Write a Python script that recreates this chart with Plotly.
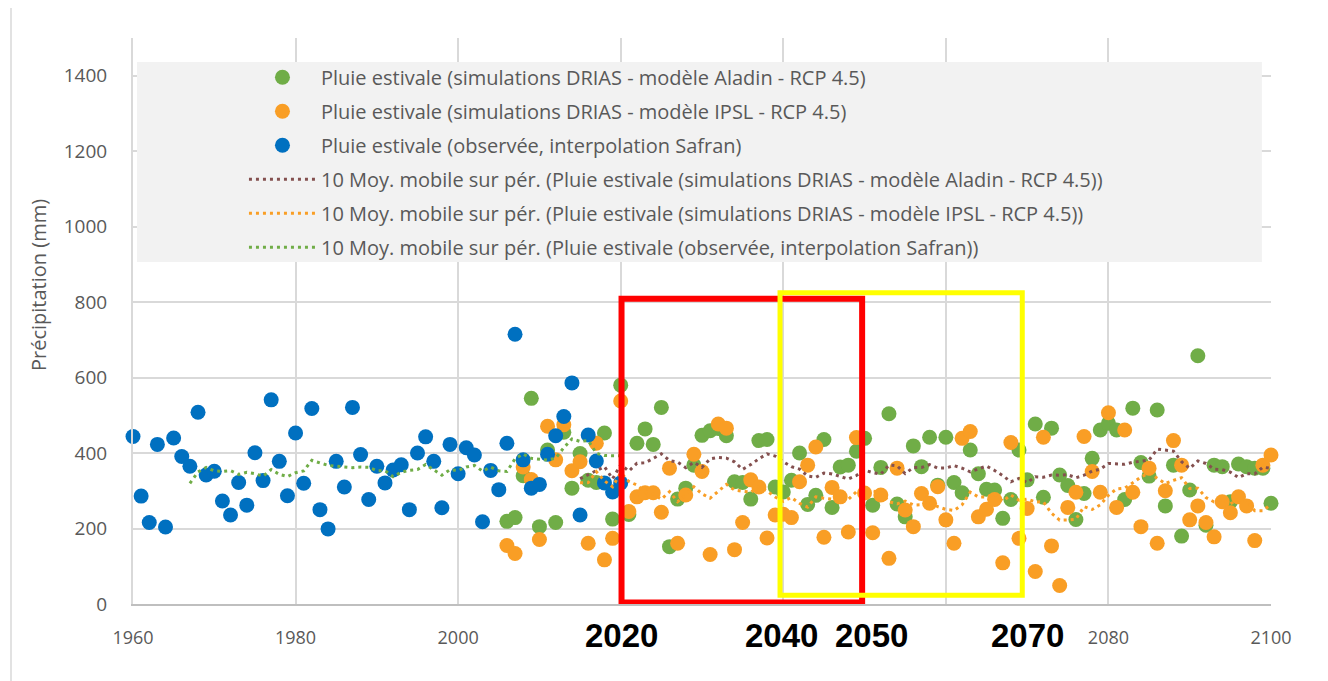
import pandas as pd
import plotly.graph_objects as go

# summer rainfall (mm) -- observed Safran series starts 1958 (first two years fall left of the axis)
obs_years = list(range(1958, 2021))
obs_rain = [
    207, 223,
    444, 286, 216, 423, 204, 440, 391, 365, 508, 342,
    352, 273, 236, 322, 262, 401, 327, 541, 378, 287,
    453, 320, 518, 250, 199, 378, 310, 521, 396, 277,
    365, 321, 355, 369, 250, 400, 443, 378, 255, 423,
    345, 414, 395, 218, 354, 303, 426, 715, 382, 307,
    317, 397, 446, 497, 586, 236, 448, 379, 321, 297,
    321,
]

sim_years = list(range(2006, 2101))
aladin_rain = [
    219, 229, 340, 545,
    205, 408, 216, 455, 307, 399, 328, 322, 453, 225,
    580, 237, 426, 464, 423, 521, 152, 278, 307, 368,
    447, 459, 465, 446, 324, 322, 278, 433, 436, 310,
    297, 328, 400, 264, 288, 436, 256, 363, 368, 405,
    439, 262, 362, 504, 265, 231, 419, 364, 442, 315,
    442, 322, 295, 408, 345, 304, 302, 227, 277, 408,
    329, 477, 283, 466, 342, 314, 224, 293, 386, 461,
    479, 461, 277, 519, 375, 339, 514, 260, 368, 180,
    302, 658, 209, 368, 364, 271, 371, 364, 360, 360,
    267,
]
ipsl_rain = [
    155, 134, 363, 330,
    171, 471, 382, 475, 353, 377, 161, 426, 117, 174,
    538, 245, 284, 295, 295, 243, 360, 161, 289, 397,
    351, 131, 477, 466, 144, 216, 329, 310, 175, 236,
    238, 229, 324, 368, 416, 177, 309, 284, 191, 441,
    294, 189, 289, 121, 360, 249, 205, 293, 267, 311,
    223, 161, 439, 457, 231, 251, 277, 109, 428, 174,
    253, 86, 442, 154, 49, 256, 296, 444, 351, 296,
    507, 256, 461, 296, 205, 360, 161, 300, 433, 368,
    223, 260, 216, 178, 271, 242, 284, 260, 168, 368,
    395,
]

x_ticks = [1960, 1980, 2000, 2020, 2040, 2060, 2080, 2100]
x_ticktext = ["1960", "1980", "2000", "", "", "", "2080", "2100"]
y_ticks = [0, 200, 400, 600, 800, 1000, 1200, 1400]
period_labels = ["2020", "2040", "2050", "2070"]
period_label_x = [2020.1, 2039.8, 2050.8, 2070.0]

GREEN = "#70AD47"
ORANGE = "#F99E25"
BLUE = "#0070C0"
BROWN = "#84504F"
TXT = "#595959"
GRID = "#D9D9D9"

names = [
    "Pluie estivale (simulations DRIAS - modèle Aladin - RCP 4.5)",
    "Pluie estivale (simulations DRIAS - modèle IPSL - RCP 4.5)",
    "Pluie estivale (observée, interpolation Safran)",
]

obs = pd.Series(obs_rain, index=obs_years)
aladin = pd.Series(aladin_rain, index=sim_years)
ipsl = pd.Series(ipsl_rain, index=sim_years)
shown = obs[obs.index >= 1960]

fig = go.Figure()

for i, (s, color) in enumerate([(aladin, GREEN), (ipsl, ORANGE), (shown, BLUE)]):
    fig.add_trace(go.Scatter(
        x=s.index, y=s.values,
        mode="markers",
        name=names[i],
        legendgroup=f"g{i}",
        marker=dict(color=color, size=15, line=dict(width=0)),
        cliponaxis=False,
    ))

# 10-period moving averages (Excel trendline)
for i, (s, color) in enumerate([(aladin, BROWN), (ipsl, ORANGE), (obs, GREEN)]):
    ma = s.rolling(10).mean().dropna()
    fig.add_trace(go.Scatter(
        x=ma.index, y=ma.values,
        mode="lines",
        name=f"10 Moy. mobile sur pér. ({names[i]})",
        legendgroup=f"m{i}",
        line=dict(color=color, width=3, dash="3px,4px"),
    ))

shapes = [
    # legend background
    dict(type="rect", xref="paper", yref="paper", x0=0.0035, x1=0.992, y0=0.6042, y1=0.9576,
         fillcolor="#F2F2F2", line=dict(width=0), layer="above"),
    # highlighted periods
    dict(type="rect", xref="x", yref="y", x0=2020.1, x1=2049.7, y0=4, y1=809,
         line=dict(color="#FF0000", width=6), layer="above"),
    dict(type="rect", xref="x", yref="y", x0=2039.6, x1=2069.4, y0=23, y1=825,
         line=dict(color="#FFFF00", width=5), layer="above"),
    # chart border (left edge)
    dict(type="line", xref="paper", yref="paper", x0=-0.1072, x1=-0.1072, y0=-0.2, y1=1.1,
         line=dict(color=GRID, width=1.5), layer="below"),
]

annotations = [
    dict(text="Précipitation (mm)", xref="paper", yref="paper", x=-0.0835, y=0.5636,
         xanchor="center", yanchor="middle",
         textangle=-90, showarrow=False, font=dict(size=20, color=TXT)),
]
for lab, xv in zip(period_labels, period_label_x):
    annotations.append(dict(
        text=f"<b>{lab}</b>", xref="x", yref="paper", x=xv, y=-0.0565,
        showarrow=False, xanchor="center", yanchor="middle",
        font=dict(size=33, color="black", family="Liberation Sans, Arial, sans-serif"),
    ))

# page body has an 8px margin, so the figure is sized/offset to land on the reference pixels
fig.update_layout(
    width=1320, height=673,
    margin=dict(l=125, r=57, t=30, b=77),
    paper_bgcolor="white",
    plot_bgcolor="white",
    font=dict(family="Open Sans, sans-serif", color=TXT),
    xaxis=dict(
        range=[1960, 2100], tickvals=x_ticks, ticktext=x_ticktext,
        showgrid=True, gridcolor=GRID, gridwidth=2,
        showline=True, linecolor="#BFBFBF", linewidth=2, zeroline=False,
        tickfont=dict(size=18, color=TXT), ticklabelstandoff=16,
    ),
    yaxis=dict(
        range=[0, 1500], tickvals=y_ticks,
        showgrid=True, gridcolor=GRID, gridwidth=2,
        showline=True, linecolor=GRID, linewidth=2, zeroline=False,
        tickfont=dict(size=19, color=TXT), ticklabelstandoff=20,
    ),
    legend=dict(
        x=0.0975, y=0.9652, xanchor="left", yanchor="top",
        bgcolor="rgba(0,0,0,0)", font=dict(size=20, color=TXT),
        tracegroupgap=5, itemwidth=67,
    ),
    shapes=shapes,
    annotations=annotations,
)

fig.write_html("out.html")
